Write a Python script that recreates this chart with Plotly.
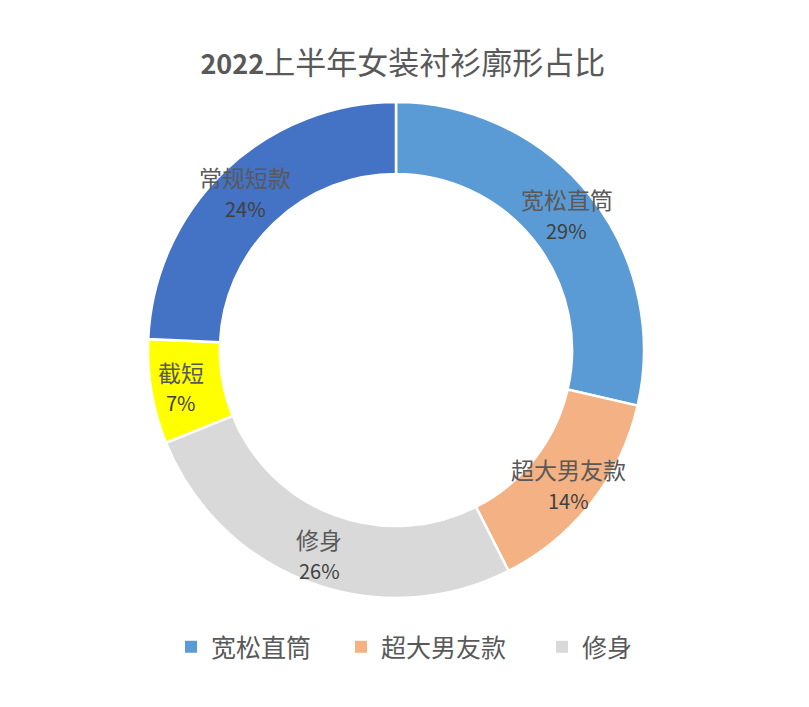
import math
import plotly.graph_objects as go

categories = ["宽松直筒", "超大男友款", "修身", "截短", "常规短款"]
values = [28.6, 13.9, 26.4, 6.8, 24.3]
colors = ["#5B9BD5", "#F4B183", "#D9D9D9", "#FFFF00", "#4472C4"]
legend_items = ["宽松直筒", "超大男友款", "修身"]

FONT = "Noto Sans CJK SC"
HOLE = 0.71
FW, FH = 809, 707
OFF = 8                        # page body margin
CX, CY, RAD = 396, 350, 248    # pie centre / radius in screenshot px


def px_x(px):
    return (px - OFF) / FW


def px_y(py):
    return 1 - (py - OFF) / FH


fig = go.Figure()
fig.add_trace(go.Pie(
    labels=categories,
    values=values,
    sort=False,
    direction="clockwise",
    rotation=0,
    hole=HOLE,
    marker=dict(colors=colors, line=dict(color="white", width=2.5)),
    textinfo="none",
    showlegend=False,
    hoverinfo="label+percent",
    domain=dict(x=[px_x(CX - RAD), px_x(CX + RAD)],
                y=[px_y(CY + RAD), px_y(CY - RAD)]),
))

# data labels placed at the middle of each slice (angle from data)
total = sum(values)
cum = 0.0
r_lab = RAD * 0.88
for name, v in zip(categories, values):
    mid = (cum + v / 2) / total * 2 * math.pi
    cum += v
    lx = CX + r_lab * math.sin(mid)
    ly = CY - r_lab * math.cos(mid)
    pct = round(v / total * 100)
    fig.add_annotation(
        x=px_x(lx), y=px_y(ly - 15), xref="paper", yref="paper",
        showarrow=False, xanchor="center", yanchor="middle",
        text=name, font=dict(family=FONT, size=23, color="#595959"),
    )
    fig.add_annotation(
        x=px_x(lx), y=px_y(ly + 16), xref="paper", yref="paper",
        showarrow=False, xanchor="center", yanchor="middle",
        text=f"{pct}%", font=dict(family=FONT, size=20, color="#404040"),
    )

legend_keys = ["legend", "legend2", "legend3"]
legend_marker_px = [190, 360, 561]
for name, key in zip(legend_items, legend_keys):
    idx = categories.index(name)
    fig.add_trace(go.Scatter(
        x=[None], y=[None], mode="markers", name=name,
        marker=dict(symbol="square", size=12, color=colors[idx]),
        showlegend=True, legend=key,
    ))

legend_cfg = {}
for key, mpx in zip(legend_keys, legend_marker_px):
    legend_cfg[key] = dict(
        orientation="h", x=px_x(mpx - 19), xanchor="left",
        y=px_y(624), yanchor="top",
        font=dict(family=FONT, size=25, color="#595959"),
        itemwidth=30, bgcolor="rgba(0,0,0,0)",
    )

fig.update_layout(
    width=FW, height=FH,
    paper_bgcolor="white", plot_bgcolor="white",
    margin=dict(l=0, r=0, t=0, b=0),
    title=dict(
        text="<b>2022</b><span style='font-size:31px'>上半年女装衬衫廓形占比</span>",
        x=0.488, xanchor="center", y=0.92, yanchor="middle",
        font=dict(family=FONT, size=27, color="#595959")),
    xaxis=dict(visible=False), yaxis=dict(visible=False),
    **legend_cfg,
)

fig.write_html("out.html")
